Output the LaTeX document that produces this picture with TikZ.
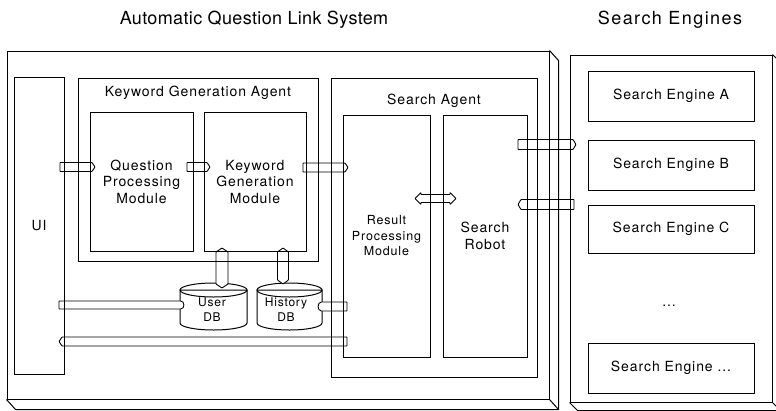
\documentclass[tikz,border=0pt]{standalone}
\usepackage{fontspec}
\setmainfont{TeX Gyre Heros}
\newfontfamily\lsfont[LetterSpace=6.5]{TeX Gyre Heros}
\newfontfamily\ttlfont[LetterSpace=2]{TeX Gyre Heros}
\newfontfamily\ttlwfont[LetterSpace=8]{TeX Gyre Heros}
\newcommand\lblfont{\fontsize{14}{16.5}\selectfont\lsfont}
\newcommand\smallfont{\fontsize{12.5}{15.5}\selectfont\lsfont}
\newcommand\dbfont{\fontsize{12}{15}\selectfont\lsfont}
\begin{document}
\begin{tikzpicture}[x=1pt,y=-1pt,line width=1pt,
  box/.style={draw, inner sep=0pt, align=center, font=\lblfont},
  lbl/.style={inner sep=0pt, align=center, font=\lblfont},
  pipe/.style={draw, fill=white, line width=0.9pt, rounded corners=0.6pt},
  db/.style={draw, fill=white, line width=1pt},
  title/.style={inner sep=0pt, font=\fontsize{18}{20}\selectfont\ttlfont}]
\useasboundingbox (0,0) rectangle (776,410);
\clip (0,0) rectangle (776,410);

% titles
\node[title] (t1) at (254,20) {Automatic Question Link System};
\node[title, font=\fontsize{18}{20}\selectfont\ttlwfont] (t2) at (670,20) {Search Engines};

% databases
\path[db] (180,290) -- (180,323) arc[start angle=180, end angle=0, x radius=33.5, y radius=7] -- (247,290) -- cycle;
\draw (213.5,290) ellipse [x radius=33.5, y radius=7];
\path[db] (257,290) -- (257,323) arc[start angle=180, end angle=0, x radius=32.5, y radius=7] -- (322,290) -- cycle;
\draw (289.5,290) ellipse [x radius=32.5, y radius=7];

% pipes
\path[pipe] (60,162.5) -- (92,162.5) -- (95,167) -- (92,171.5) -- (60,171.5) -- cycle;
\path[pipe] (187,162.5) -- (207,162.5) -- (210,167) -- (207,171.5) -- (187,171.5) -- cycle;
\path[pipe] (303,163) -- (345,163) -- (348,167.5) -- (345,172) -- (303,172) -- cycle;
\path[pipe] (415,198.5) -- (421,192.5) -- (421,194.5) -- (450,194.5) -- (450,192.5) -- (456,198.5) -- (450,204.5) -- (450,202.5) -- (421,202.5) -- (421,204.5) -- cycle;
\path[pipe] (518,139.5) -- (573,139.5) -- (576,144.5) -- (573,149.5) -- (518,149.5) -- cycle;
\path[pipe] (574,199.5) -- (521,199.5) -- (518,204.5) -- (521,209.5) -- (574,209.5) -- cycle;
\path[pipe] (222,248) -- (228,252) -- (228,284) -- (222,288) -- (216,284) -- (216,252) -- cycle;
\path[pipe] (283,248) -- (288.5,252) -- (288.5,280) -- (283,284) -- (277.5,280) -- (277.5,252) -- cycle;
\path[pipe] (59,301) -- (180,301) .. controls (185,301) and (185,309) .. (180,309) -- (59,309) -- cycle;
\path[pipe] (347,302) -- (322,302) .. controls (317,302) and (317,311) .. (322,311) -- (347,311) -- cycle;
\path[pipe] (347,337) -- (62,337) -- (59,341.5) -- (62,346) -- (347,346) -- cycle;

% database labels
\node[inner sep=0pt, align=center, font=\dbfont] (udb) at (212,309.5) {User\\DB};
\node[inner sep=0pt, align=center, font=\dbfont] (hdb) at (286,309.5) {History\\DB};

% outer 3D box: Automatic Question Link System
\node[draw, inner sep=0pt, minimum width=542, minimum height=348] (als) at (278,225) {};
\draw (als.north east) -- ++(9,10) -- ([shift={(9,10)}]als.south east) -- ([shift={(9,10)}]als.south west) -- (als.south west);
\draw (als.south east) -- ++(9,10);

% outer 3D box: Search Engines
\node[draw, inner sep=0pt, minimum width=202, minimum height=347] (se) at (671,228.5) {};
\draw (se.north east) -- ++(8,8) -- ([shift={(8,8)}]se.south east) -- ([shift={(8,8)}]se.south west) -- (se.south west);
\draw (se.south east) -- ++(8,8);

% inner boxes
\node[box, minimum width=50, minimum height=297] (ui) at (39,225.5) {UI};
\node[box, minimum width=240, minimum height=183] (kga) at (198,169.5) {};
\node[lbl] (kgal) at (198,93) {Keyword Generation Agent};
\node[box, minimum width=103, minimum height=139] (qpm) at (141.5,181.5) {Question\\Processing\\Module};
\node[box, minimum width=102, minimum height=139] (kgm) at (255,181.5) {Keyword\\Generation\\Module};
\node[box, minimum width=206, minimum height=299] (sa) at (434,227.5) {};
\node[lbl] (sal) at (434,101) {Search Agent};
\node[box, minimum width=87, minimum height=242, font=\smallfont] (rpm) at (386.5,236) {Result\\Processing\\Module};
\node[box, minimum width=84, minimum height=242] (sr) at (485,236) {Search\\Robot};

% search engines
\node[box, minimum width=166, minimum height=50] (sea) at (671,96) {Search Engine A};
\node[box, minimum width=166, minimum height=50] (seb) at (671,165) {Search Engine B};
\node[box, minimum width=166, minimum height=48] (sec) at (671,229) {Search Engine C};
\node[lbl] (dots) at (669,306) {...};
\node[box, minimum width=166, minimum height=50] (sed) at (671,368) {Search Engine ...};
\end{tikzpicture}
\end{document}
